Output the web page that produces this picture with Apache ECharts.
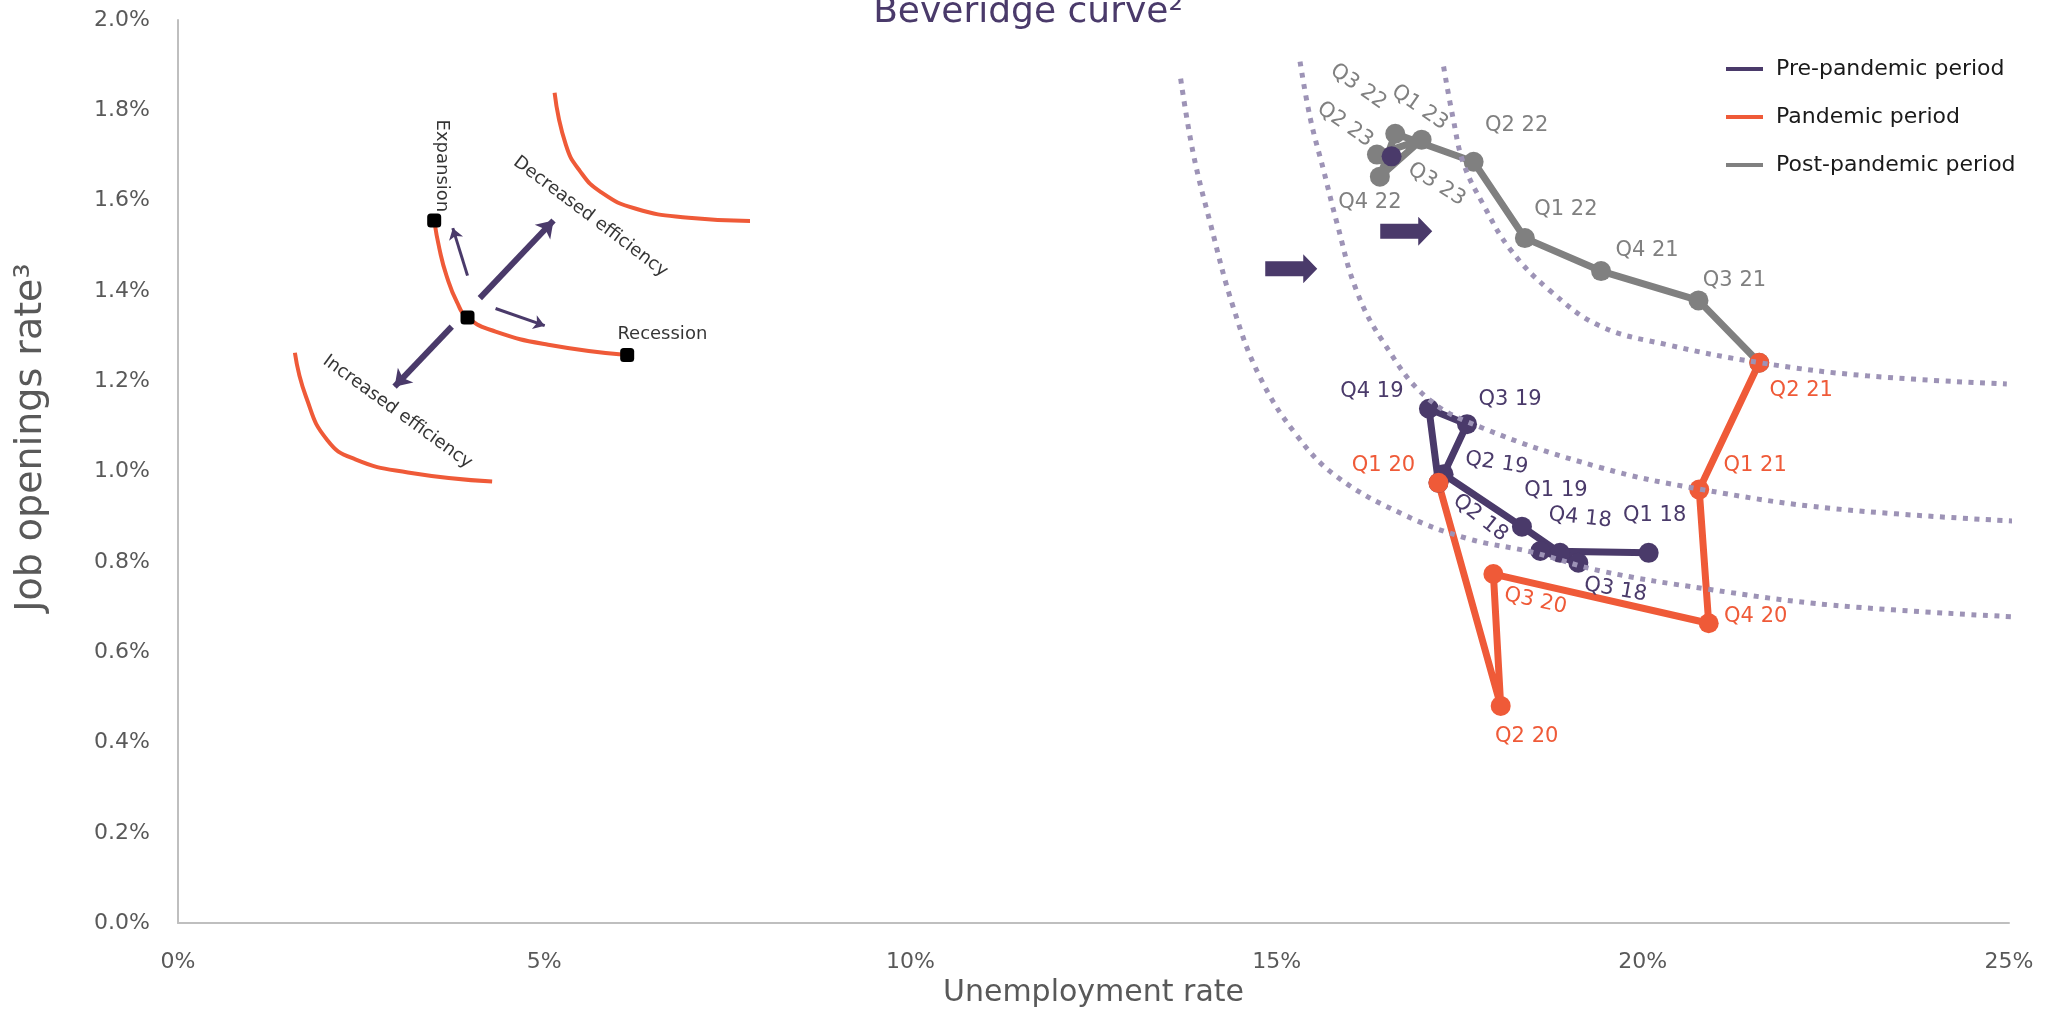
<!DOCTYPE html>
<html>
<head>
<meta charset="utf-8">
<script src="https://cdn.jsdelivr.net/npm/echarts@6/dist/echarts.min.js"></script>
<style>
  html, body { margin: 0; padding: 0; background: #fff; }
  #chart { width: 2056px; height: 1013px; }
</style>
</head>
<body>
<div id="chart"></div>
<script>
// Data (unemployment rate %, job openings rate %)
const preQuarters = ['Q1 18', 'Q2 18', 'Q3 18', 'Q4 18', 'Q1 19', 'Q2 19', 'Q3 19', 'Q4 19'];
const preUnemp = [20.08, 18.60, 19.12, 18.87, 18.35, 17.28, 17.60, 17.08];
const preOpen = [0.820, 0.824, 0.798, 0.820, 0.878, 0.994, 1.105, 1.139];

const panQuarters = ['Q1 20', 'Q2 20', 'Q3 20', 'Q4 20', 'Q1 21', 'Q2 21'];
const panUnemp = [17.21, 18.06, 17.96, 20.90, 20.77, 21.59];
const panOpen = [0.975, 0.481, 0.773, 0.664, 0.960, 1.241];

const postQuarters = ['Q3 21', 'Q4 21', 'Q1 22', 'Q2 22', 'Q3 22', 'Q4 22', 'Q1 23', 'Q2 23', 'Q3 23'];
const postUnemp = [20.76, 19.43, 18.39, 17.69, 16.62, 16.41, 16.98, 16.37, 16.57];
const postOpen = [1.379, 1.444, 1.517, 1.686, 1.748, 1.653, 1.735, 1.702, 1.698];

// Dotted Beveridge curves
const curveLowX = [13.69, 13.86, 14.09, 14.41, 14.77, 15.27, 15.82, 16.73, 17.60, 18.50, 19.42, 20.87, 22.60, 25.10];
const curveLowY = [1.870, 1.706, 1.553, 1.363, 1.210, 1.081, 0.989, 0.905, 0.852, 0.821, 0.780, 0.740, 0.704, 0.678];
const curveMidX = [15.32, 15.46, 15.64, 15.82, 16.09, 16.46, 17.05, 17.82, 19.42, 20.78, 22.60, 25.24];
const curveMidY = [1.908, 1.782, 1.668, 1.553, 1.401, 1.286, 1.164, 1.096, 1.009, 0.961, 0.918, 0.889];
const curveHighX = [17.28, 17.41, 17.55, 17.82, 18.19, 18.73, 19.42, 20.33, 21.60, 23.06, 24.97];
const curveHighY = [1.897, 1.782, 1.683, 1.592, 1.492, 1.401, 1.322, 1.281, 1.241, 1.212, 1.194];

// Shift arrows between the curves
const shiftX = [15.20, 16.77];
const shiftY = [1.449, 1.532];

// Explanatory diagram
const diagUpperX = [5.142, 5.295, 5.486, 5.774, 6.253, 6.972, 7.810];
const diagUpperY = [1.839, 1.724, 1.666, 1.619, 1.582, 1.562, 1.555];
const diagMidX = [3.498, 3.571, 3.666, 3.809, 3.953, 4.336, 5.055, 6.133];
const diagMidY = [1.556, 1.492, 1.434, 1.375, 1.341, 1.310, 1.281, 1.258];
const diagLowX = [1.596, 1.749, 2.037, 2.421, 3.139, 4.289];
const diagLowY = [1.263, 1.165, 1.070, 1.027, 0.998, 0.978];
const diagDotX = [3.498, 3.953, 6.133];
const diagDotY = [1.556, 1.341, 1.258];
// arrows: [fromX, fromY, toX, toY]
const diagThickArrows = [[4.121, 1.384, 5.127, 1.556], [3.738, 1.321, 2.957, 1.188]];
const diagThinArrows = [[3.953, 1.434, 3.752, 1.539], [4.336, 1.361, 5.007, 1.323]];
const diagTexts = ['Expansion', 'Decreased efficiency', 'Recession', 'Increased efficiency'];
const diagTextX = [3.594, 5.631, 6.613, 2.996];
const diagTextY = [1.677, 1.564, 1.304, 1.132];

// Styles
const purple = '#4a3a6a';
const orange = '#ef5a38';
const gray = '#808080';
const dotted = '#9d93b6';
const axisText = '#595959';
const font = 'DejaVu Sans';

// label placement in pixels: [dx, dy, rotate]
const labelPlace = {
  'Q1 18': [6, -37, 0], 'Q2 18': [-60, -33, -38], 'Q3 18': [37, 27, -10], 'Q4 18': [20, -35, -6],
  'Q1 19': [34, -36, 0], 'Q2 19': [53, -11, -8], 'Q3 19': [43, -25, 0], 'Q4 19': [-57, -17, 0],
  'Q1 20': [-55, -17, 0], 'Q2 20': [26, 31, 0], 'Q3 20': [42, 27, -12], 'Q4 20': [47, -7, 0],
  'Q1 21': [56, -24, 0], 'Q2 21': [42, 28, 0], 'Q3 21': [36, -20, 0], 'Q4 21': [46, -21, 0],
  'Q1 22': [41, -29, 0], 'Q2 22': [43, -36, 0], 'Q3 22': [-37, -47, -35], 'Q4 22': [-10, 26, 0],
  'Q1 23': [-2, -32, -35], 'Q2 23': [-32, -30, -35], 'Q3 23': [45, 28, -32]
};

function pointsOf(names, xs, ys, color) {
  return names.map((n, i) => ({
    name: n,
    value: [xs[i], ys[i]],
    label: {
      show: true, formatter: n, position: 'inside', rotate: labelPlace[n][2],
      color: color, fontSize: 21, fontFamily: font
    }
  }));
}

const preData = pointsOf(preQuarters, preUnemp, preOpen, purple);
preData.push({ value: [panUnemp[0], panOpen[0]], label: { show: false } });

const panData = pointsOf(panQuarters, panUnemp, panOpen, orange);

const postData = [{ value: [panUnemp[panUnemp.length - 1], panOpen[panOpen.length - 1]], label: { show: false } }]
  .concat(pointsOf(postQuarters, postUnemp, postOpen, gray));
postData[postData.length - 1].itemStyle = { color: purple };

function pairs(xs, ys) {
  return xs.map((x, i) => [x, ys[i]]);
}

// move each quarter label next to its point
// (the shift gets turned with the text, so turn it back first)
function placeLabel(params) {
  const p = labelPlace[params.text];
  if (!p) return {};
  const t = p[2] * Math.PI / 180;
  return {
    dx: p[0] * Math.cos(t) - p[1] * Math.sin(t),
    dy: p[0] * Math.sin(t) + p[1] * Math.cos(t),
    rotate: p[2]
  };
}

function periodSeries(name, color, data) {
  return {
    name: name, type: 'line', data: data,
    symbol: 'circle', symbolSize: 20,
    itemStyle: { color: color },
    lineStyle: { color: color, width: 7 },
    labelLayout: placeLabel
  };
}

function dottedSeries(xs, ys) {
  return {
    type: 'line', data: pairs(xs, ys), smooth: 0.4, showSymbol: false, clip: false, silent: true, z: 5,
    lineStyle: { color: dotted, width: 5, type: [5, 6.5], cap: 'butt' }
  };
}

function diagCurve(xs, ys) {
  return {
    type: 'line', data: pairs(xs, ys), smooth: 0.5, showSymbol: false, silent: true,
    lineStyle: { color: orange, width: 4 }
  };
}

function arrowSeries(list, width, size) {
  return {
    type: 'lines', coordinateSystem: 'cartesian2d', silent: true, z: 3,
    symbol: ['none', 'arrow'], symbolSize: size,
    lineStyle: { color: purple, width: width, opacity: 1, curveness: 0 },
    data: list.map(a => ({ coords: [[a[0], a[1]], [a[2], a[3]]] }))
  };
}

const chart = echarts.init(document.getElementById('chart'));

const options = {
  animation: false,
  textStyle: { fontFamily: font },
  title: {
    text: 'Beveridge curve²',
    left: 'center',
    top: -10,
    textStyle: { color: purple, fontSize: 36, fontWeight: 'normal', fontFamily: font }
  },
  legend: {
    data: ['Pre-pandemic period', 'Pandemic period', 'Post-pandemic period'],
    orient: 'vertical',
    left: 1721,
    top: 51,
    icon: 'rect',
    itemWidth: 37,
    itemHeight: 4,
    itemGap: 22,
    textStyle: { fontSize: 22, color: '#1a1a1a', fontFamily: font, padding: [0, 0, 0, 8], lineHeight: 26 }
  },
  grid: { left: 178, right: 47, top: 20, bottom: 75 },
  xAxis: {
    type: 'value', min: 0, max: 25, interval: 5,
    name: 'Unemployment rate', nameLocation: 'middle', nameGap: 44,
    nameTextStyle: { fontSize: 30, color: axisText, fontFamily: font },
    axisLine: { show: true, lineStyle: { color: '#bfbfbf', width: 2 } },
    axisTick: { show: false },
    splitLine: { show: false },
    axisLabel: { formatter: v => v + '%', fontSize: 22, color: axisText, margin: 28, fontFamily: font }
  },
  yAxis: {
    type: 'value', min: 0, max: 2, interval: 0.2,
    name: 'Job openings rate³', nameLocation: 'middle', nameGap: 128,
    nameTextStyle: { fontSize: 38, color: axisText, fontFamily: font, padding: [0, 0, 0, 68] },
    axisLine: { show: true, lineStyle: { color: '#bfbfbf', width: 2 } },
    axisTick: { show: false },
    splitLine: { show: false },
    axisLabel: { formatter: v => v.toFixed(1) + '%', fontSize: 22, color: axisText, margin: 28, fontFamily: font }
  },
  series: [
    periodSeries('Post-pandemic period', gray, postData),
    periodSeries('Pre-pandemic period', purple, preData),
    periodSeries('Pandemic period', orange, panData),
    dottedSeries(curveLowX, curveLowY),
    dottedSeries(curveMidX, curveMidY),
    dottedSeries(curveHighX, curveHighY),
    {
      type: 'scatter', silent: true, z: 4,
      symbol: 'path://M0,7 L38,7 L38,0 L52,14.5 L38,29 L38,22 L0,22 Z',
      symbolSize: [52, 29],
      itemStyle: { color: purple, opacity: 1 },
      data: pairs(shiftX, shiftY)
    },
    diagCurve(diagUpperX, diagUpperY),
    diagCurve(diagMidX, diagMidY),
    diagCurve(diagLowX, diagLowY),
    arrowSeries(diagThickArrows, 6, 16),
    arrowSeries(diagThinArrows, 3, 11),
    {
      type: 'scatter', silent: true, z: 4,
      symbol: 'roundRect', symbolSize: 14,
      itemStyle: { color: '#000', opacity: 1 },
      data: pairs(diagDotX, diagDotY)
    },
    {
      type: 'scatter', silent: true, z: 4,
      symbolSize: 0,
      data: diagTexts.map((t, i) => ({
        value: [diagTextX[i], diagTextY[i]],
        label: {
          show: true, formatter: t, position: 'inside',
          rotate: [-90, -37, 0, -36][i],
          color: '#000', fontSize: 18, fontFamily: font
        }
      }))
    }
  ]
};

chart.setOption(options);
</script>
</body>
</html>
